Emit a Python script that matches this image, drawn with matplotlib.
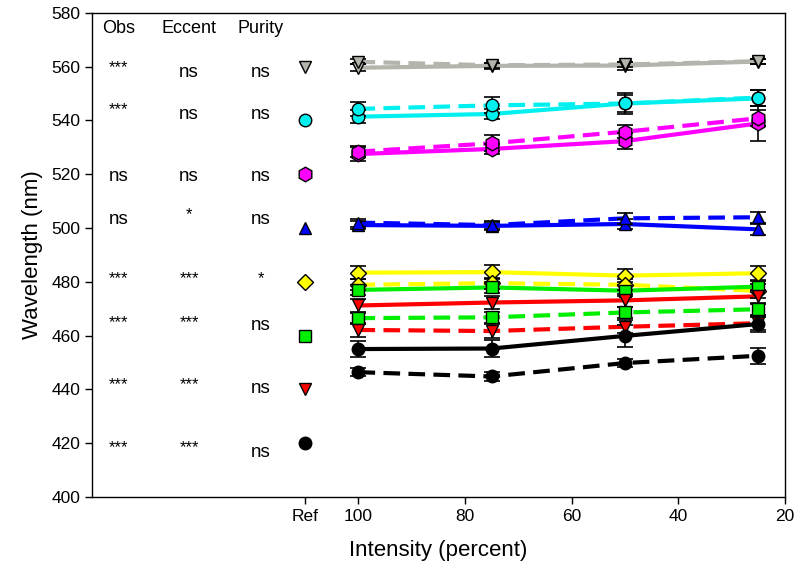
import matplotlib.pyplot as plt

plt.rcParams['font.family'] = ['Liberation Sans', 'DejaVu Sans']

# Intensity levels and reference position
intensity = [100, 75, 50, 25]
ref_x = 110

colors = ['#b4b4ac', '#00f0f0', '#ff00ff', '#0000ff', '#ffff00', '#00ee00', '#ff0000', '#000000']
markers = ['v', 'o', 'h', '^', 'D', 's', 'v', 'o']
msizes = [9, 9, 10.5, 9, 8, 8.5, 9, 9]
ref_vals = [560, 540, 520, 500, 480, 460, 440, 420]

# Solid series (one per colour)
solid = [
    [559.6, 560.3, 560.4, 561.9],
    [541.4, 542.4, 546.3, 548.2],
    [527.5, 529.4, 532.3, 538.9],
    [501.1, 500.8, 501.5, 499.5],
    [483.4, 483.6, 482.3, 483.2],
    [477.0, 477.9, 476.7, 478.2],
    [471.2, 472.3, 473.1, 474.6],
    [455.0, 455.2, 459.9, 464.3],
]
solid_err = [
    [1.2, 1.0, 1.5, 1.0],
    [2.5, 2.0, 3.0, 3.0],
    [2.5, 2.0, 3.0, 6.5],
    [1.5, 1.5, 2.0, 2.0],
    [2.5, 2.5, 2.5, 2.5],
    [2.0, 2.0, 2.0, 2.0],
    [2.5, 2.5, 2.5, 2.5],
    [3.0, 3.0, 4.0, 3.0],
]

# Dashed series
dashed = [
    [561.8, 560.5, 560.8, 562.0],
    [544.3, 545.6, 546.3, 548.5],
    [528.4, 531.5, 535.8, 540.8],
    [502.0, 501.1, 503.6, 504.0],
    [478.9, 479.5, 478.9, 476.6],
    [466.5, 466.8, 468.6, 469.8],
    [462.1, 461.7, 463.3, 464.6],
    [446.4, 444.8, 449.8, 452.5],
]
dashed_err = [
    [1.0, 1.0, 1.0, 1.0],
    [2.5, 3.0, 4.0, 3.0],
    [2.0, 3.0, 2.5, 3.0],
    [1.5, 1.5, 2.0, 2.0],
    [2.0, 2.0, 2.0, 2.5],
    [2.0, 2.0, 2.0, 2.0],
    [2.5, 2.5, 2.5, 2.5],
    [1.5, 1.5, 1.5, 3.0],
]

# Significance table
col_names = ['Obs', 'Eccent', 'Purity']
col_x = [145, 131.8, 118.3]
obs_txt = ['***', '***', 'ns', 'ns', '***', '***', '***', '***']
ecc_txt = ['ns', 'ns', 'ns', '*', '***', '***', '***', '***']
pur_txt = ['ns', 'ns', 'ns', 'ns', '*', 'ns', 'ns', 'ns']
obs_y = [559.6, 544.0, 519.0, 503.0, 481.0, 465.0, 441.8, 418.5]
ecc_y = [557.8, 542.2, 519.0, 505.0, 481.0, 465.0, 441.8, 418.5]
pur_y = [557.8, 542.2, 519.0, 503.0, 481.0, 463.7, 440.4, 416.7]

fig = plt.figure(figsize=(8, 5.84), dpi=100)
ax = fig.add_axes([0.115, 0.149, 0.866, 0.829])

for i in range(len(colors)):
    ax.plot(intensity, solid[i], color=colors[i], lw=3, zorder=2)
    ax.plot(intensity, dashed[i], color=colors[i], lw=3, dashes=(4, 2), zorder=2)
    for vals, errs in ((solid[i], solid_err[i]), (dashed[i], dashed_err[i])):
        ax.errorbar(intensity, vals, yerr=errs, fmt='none', ecolor='black',
                    elinewidth=1.2, capsize=6, capthick=1.2, zorder=3)
        ax.plot(intensity, vals, ls='none', marker=markers[i], ms=msizes[i],
                mfc=colors[i], mec='black', mew=1, zorder=4)
    ax.plot(ref_x, ref_vals[i], ls='none', marker=markers[i], ms=msizes[i],
            mfc=colors[i], mec='black', mew=1, zorder=4)

for name, x in zip(col_names, col_x):
    ax.text(x, 574, name, ha='center', va='center', fontsize=13)

for txts, ys, x in ((obs_txt, obs_y, col_x[0]), (ecc_txt, ecc_y, col_x[1]), (pur_txt, pur_y, col_x[2])):
    for t, y in zip(txts, ys):
        if t == 'ns':
            ax.text(x, y, t, ha='center', va='center', fontsize=13.5)
        else:
            ax.text(x, y, t, ha='center', va='center', fontsize=12)

ax.set_xlim(150, 20)
ax.set_ylim(400, 580)
ax.set_xticks([110, 100, 80, 60, 40, 20])
ax.set_xticklabels(['Ref', '100', '80', '60', '40', '20'])
ax.set_yticks(range(400, 581, 20))
ax.tick_params(axis='both', labelsize=12.5, direction='out', length=5, width=1)
ax.tick_params(top=False, right=False)
for s in ax.spines.values():
    s.set_linewidth(1)

ax.set_xlabel('Intensity (percent)', fontsize=16, labelpad=12)
ax.set_ylabel('Wavelength (nm)', fontsize=16, labelpad=6)

fig.savefig('out.png', dpi=100)
